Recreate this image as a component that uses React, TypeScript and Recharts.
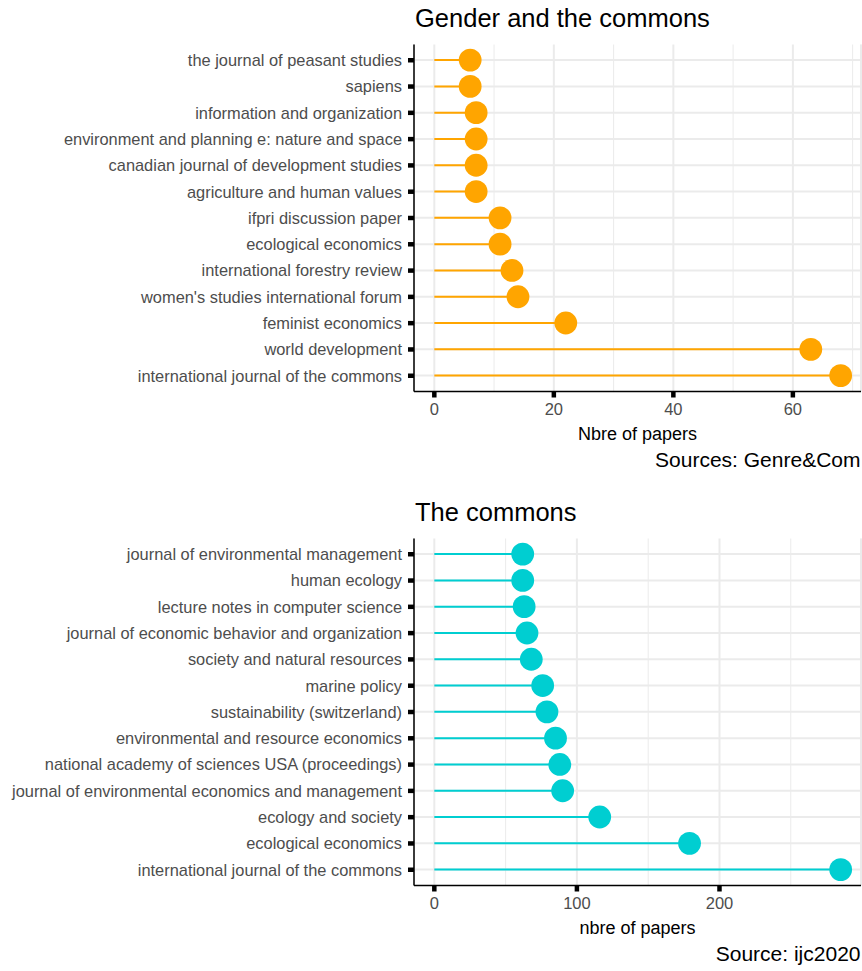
import React from "react";
import { ComposedChart, Bar, XAxis, YAxis, CartesianGrid } from "recharts";

const genderJournals = [
  "the journal of peasant studies",
  "sapiens",
  "information and organization",
  "environment and planning e: nature and space",
  "canadian journal of development studies",
  "agriculture and human values",
  "ifpri discussion paper",
  "ecological economics",
  "international forestry review",
  "women's studies international forum",
  "feminist economics",
  "world development",
  "international journal of the commons",
];
const genderCounts = [6, 6, 7, 7, 7, 7, 11, 11, 13, 14, 22, 63, 68];
const genderTicks = [0, 20, 40, 60];
const genderMinorTicks = [10, 30, 50, 70];
const genderDomain: [number, number] = [-3.4, 71.4];

const commonsJournals = [
  "journal of environmental management",
  "human ecology",
  "lecture notes in computer science",
  "journal of economic behavior and organization",
  "society and natural resources",
  "marine policy",
  "sustainability (switzerland)",
  "environmental and resource economics",
  "national academy of sciences USA (proceedings)",
  "journal of environmental economics and management",
  "ecology and society",
  "ecological economics",
  "international journal of the commons",
];
const commonsCounts = [62, 62, 63, 65, 68, 76, 79, 85, 88, 90, 116, 179, 285];
const commonsTicks = [0, 100, 200];
const commonsMinorTicks = [50, 150, 250];
const commonsDomain: [number, number] = [-14.25, 299.25];

const FONT = "'Liberation Sans', Arial, Helvetica, sans-serif";
const GRID = "#EBEBEB";
const PANEL_W = 862;
const PANEL_H = 494;

function YTick(props: any) {
  const { x, y, payload } = props;
  return (
    <text x={x} y={y} dy="0.36em" textAnchor="end" fill="#4D4D4D" fontSize={16.4} fontFamily={FONT}>
      {payload.value}
    </text>
  );
}

function XTick(props: any) {
  const { x, y, payload } = props;
  return (
    <text x={x} y={y} dy="0.71em" textAnchor="middle" fill="#4D4D4D" fontSize={16.5} fontFamily={FONT}>
      {payload.value}
    </text>
  );
}

function makeLollipop(color: string) {
  return (props: any) => {
    const { x, y, width, height } = props;
    const cy = y + height / 2;
    return (
      <g>
        <line x1={x} x2={x + width} y1={cy} y2={cy} stroke={color} strokeWidth={2} />
        <circle cx={x + width} cy={cy} r={11.4} fill={color} />
      </g>
    );
  };
}

function rowLine(props: any) {
  const { x, y, width, height } = props;
  const cy = y + height / 2;
  return <line x1={x} x2={x + width} y1={cy} y2={cy} stroke={GRID} strokeWidth={2} />;
}

type PanelProps = {
  top: number;
  title: string;
  xTitle: string;
  caption: string;
  journals: string[];
  counts: number[];
  ticks: number[];
  minorTicks: number[];
  domain: [number, number];
  color: string;
};

function Panel(p: PanelProps) {
  const data = p.journals.map((j, i) => ({ journal: j, count: p.counts[i] }));
  return (
    <div style={{ position: "absolute", left: 0, top: p.top, width: PANEL_W, height: PANEL_H }}>
      <ComposedChart
        width={PANEL_W}
        height={PANEL_H}
        data={data}
        layout="vertical"
        margin={{ top: 44.5, right: 1, bottom: 72.5, left: 0 }}
      >
        <CartesianGrid xAxisId="minor" horizontal={false} stroke={GRID} strokeWidth={1} />
        <CartesianGrid horizontal={false} stroke={GRID} strokeWidth={2} />
        <XAxis
          xAxisId="minor"
          type="number"
          domain={p.domain}
          ticks={p.minorTicks}
          hide
          allowDataOverflow
        />
        <XAxis
          type="number"
          domain={p.domain}
          ticks={p.ticks}
          allowDataOverflow
          height={30}
          axisLine={{ stroke: "#000", strokeWidth: 1.5 }}
          tickLine={{ stroke: "#000", strokeWidth: 4.5 }}
          tickSize={6}
          tickMargin={6}
          tick={<XTick />}
          interval={0}
        />
        <YAxis
          type="category"
          dataKey="journal"
          width={414}
          padding={{ top: 2.6, bottom: 2.6 }}
          axisLine={{ stroke: "#000", strokeWidth: 1.5 }}
          tickLine={{ stroke: "#000", strokeWidth: 4.5 }}
          tickSize={6}
          tickMargin={6}
          tick={<YTick />}
          interval={0}
        />
        <Bar
          dataKey="count"
          fill={p.color}
          barSize={2}
          isAnimationActive={false}
          background={rowLine}
          shape={makeLollipop(p.color)}
        />
      </ComposedChart>
      <svg
        width={PANEL_W}
        height={PANEL_H}
        style={{ position: "absolute", left: 0, top: 0, pointerEvents: "none" }}
      >
        <text x={415} y={26.5} fontSize={25.5} fill="#000" fontFamily={FONT}>
          {p.title}
        </text>
        <text x={637.5} y={439.5} fontSize={18} fill="#000" textAnchor="middle" fontFamily={FONT}>
          {p.xTitle}
        </text>
        <text x={860.5} y={466.7} fontSize={21} fill="#000" textAnchor="end" fontFamily={FONT}>
          {p.caption}
        </text>
      </svg>
    </div>
  );
}

export default function App() {
  return (
    <div style={{ position: "absolute", left: 0, top: 0, width: 862, height: 971, background: "#fff" }}>
      <Panel
        top={0}
        title="Gender and the commons"
        xTitle="Nbre of papers"
        caption="Sources: Genre&Com"
        journals={genderJournals}
        counts={genderCounts}
        ticks={genderTicks}
        minorTicks={genderMinorTicks}
        domain={genderDomain}
        color="#FFA500"
      />
      <Panel
        top={494}
        title="The commons"
        xTitle="nbre of papers"
        caption="Source: ijc2020"
        journals={commonsJournals}
        counts={commonsCounts}
        ticks={commonsTicks}
        minorTicks={commonsMinorTicks}
        domain={commonsDomain}
        color="#00CED1"
      />
    </div>
  );
}
